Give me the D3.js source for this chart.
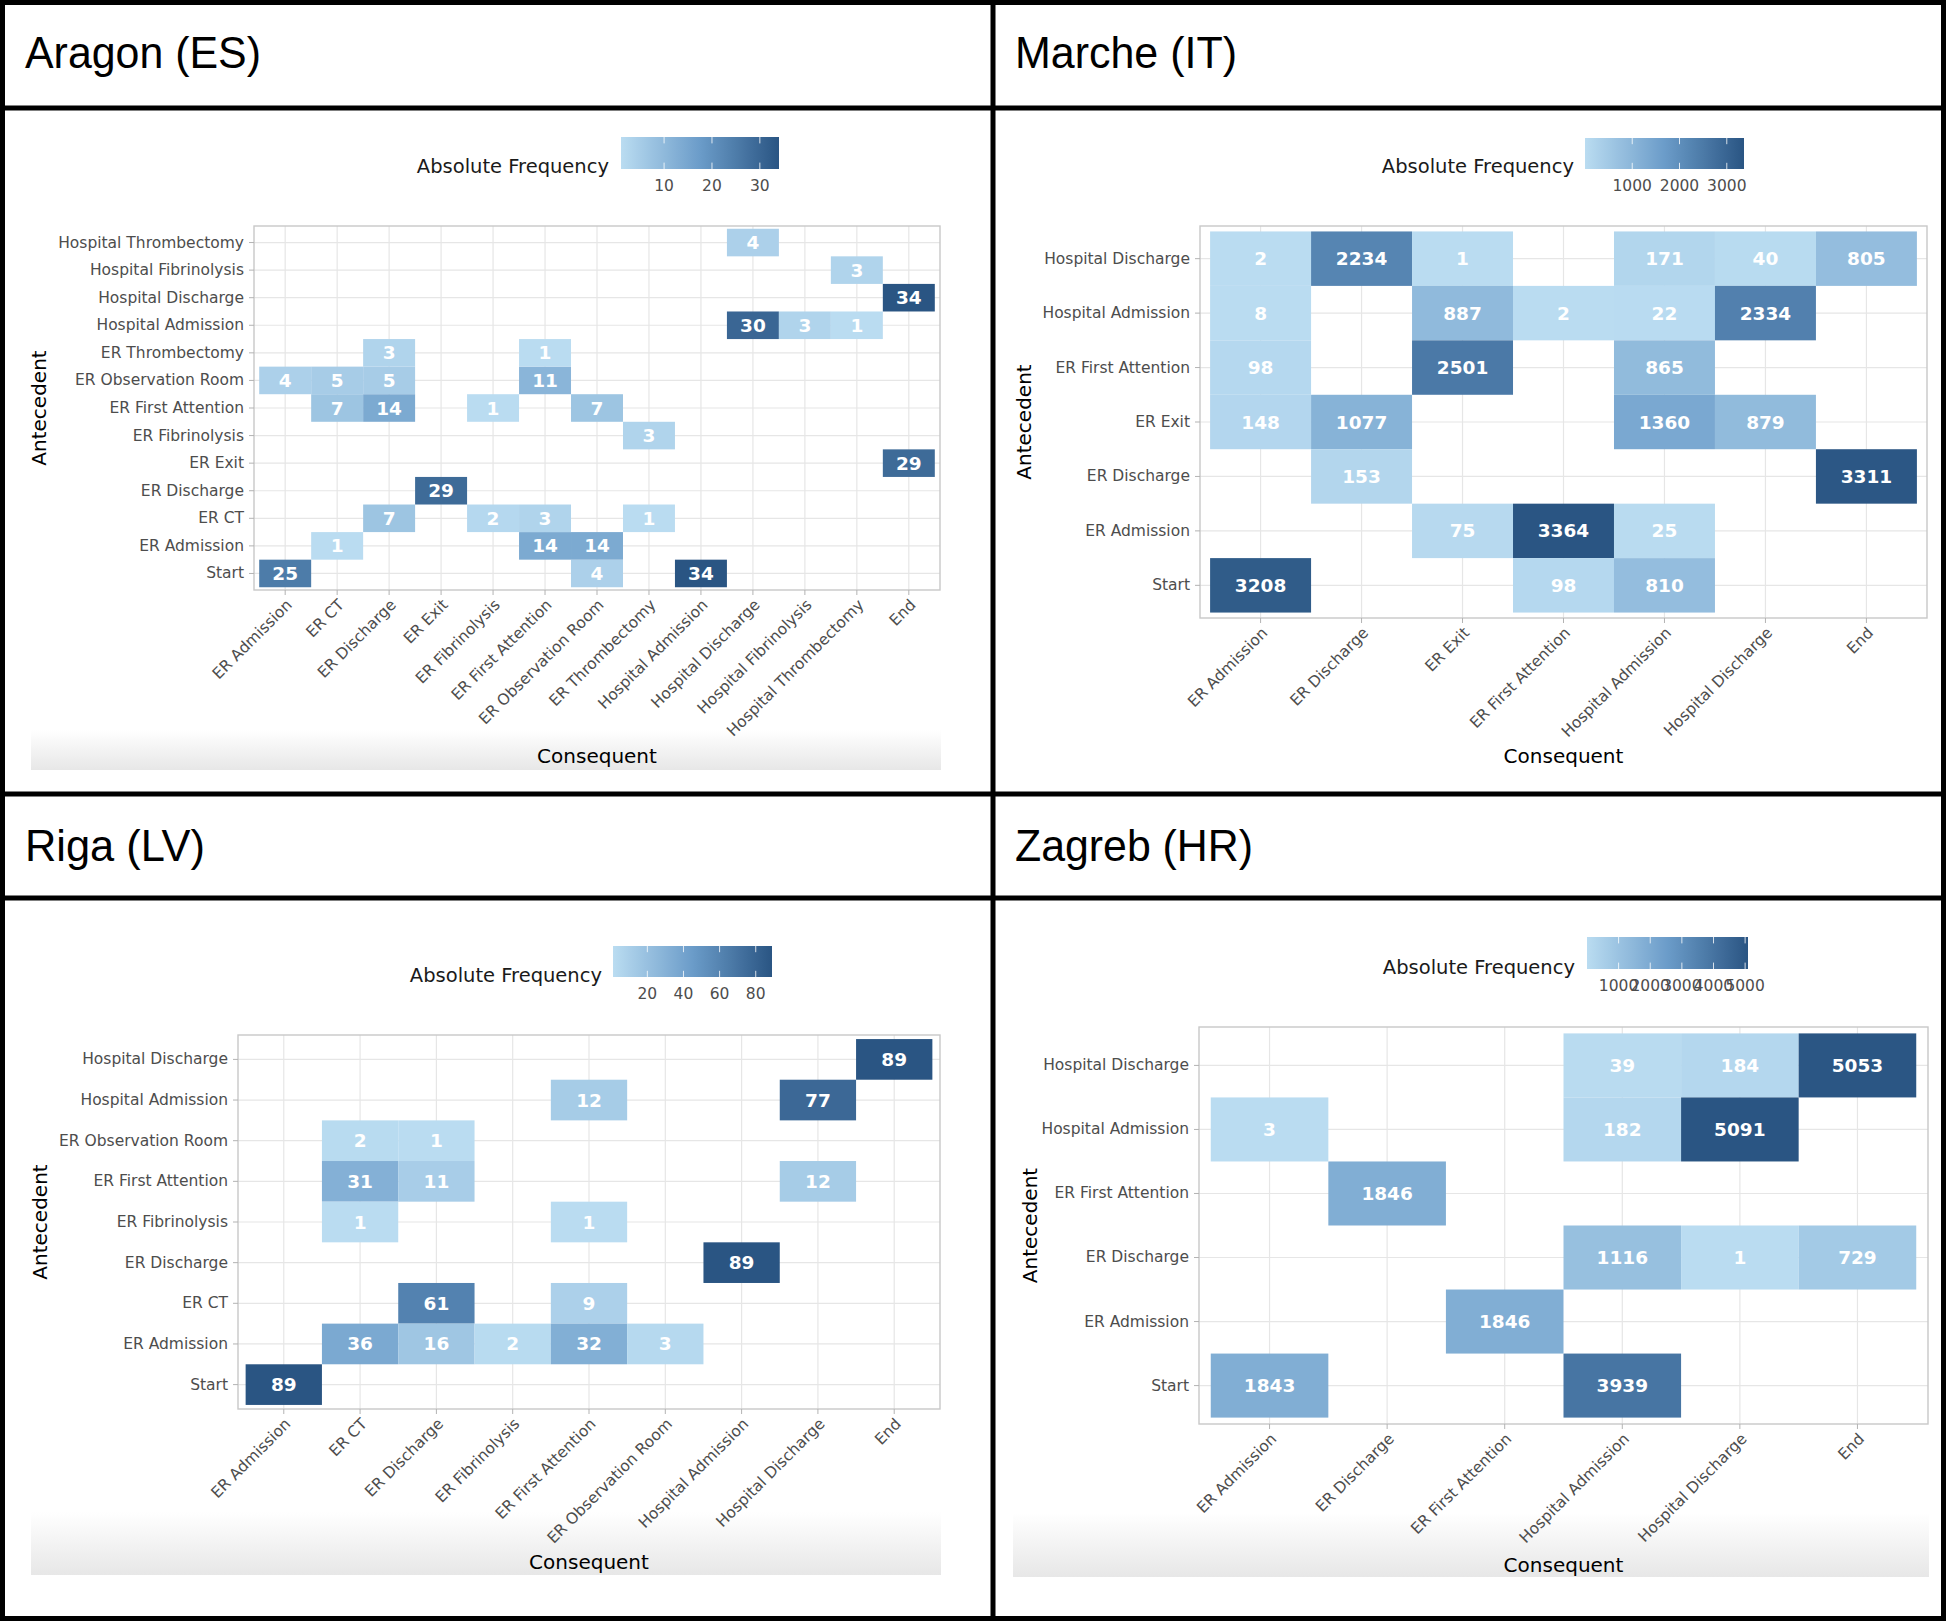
<!DOCTYPE html>
<html><head><meta charset="utf-8">
<script src="https://cdn.jsdelivr.net/npm/d3@7"></script>
<style>
html,body{margin:0;padding:0;background:#fff;}
svg{display:block;}
</style></head><body>
<svg id="chart" width="1946" height="1621"></svg>
<script>
// ---------------- DATA ----------------
const aragonConsequents = ["ER Admission","ER CT","ER Discharge","ER Exit","ER Fibrinolysis","ER First Attention","ER Observation Room","ER Thrombectomy","Hospital Admission","Hospital Discharge","Hospital Fibrinolysis","Hospital Thrombectomy","End"];
const aragonAntecedents = ["Start","ER Admission","ER CT","ER Discharge","ER Exit","ER Fibrinolysis","ER First Attention","ER Observation Room","ER Thrombectomy","Hospital Admission","Hospital Discharge","Hospital Fibrinolysis","Hospital Thrombectomy"];
const aragonCells = [
  ["Start","ER Admission",25],["Start","ER Observation Room",4],["Start","Hospital Admission",34],
  ["ER Admission","ER CT",1],["ER Admission","ER First Attention",14],["ER Admission","ER Observation Room",14],
  ["ER CT","ER Discharge",7],["ER CT","ER Fibrinolysis",2],["ER CT","ER First Attention",3],["ER CT","ER Thrombectomy",1],
  ["ER Discharge","ER Exit",29],
  ["ER Exit","End",29],
  ["ER Fibrinolysis","ER Thrombectomy",3],
  ["ER First Attention","ER CT",7],["ER First Attention","ER Discharge",14],["ER First Attention","ER Fibrinolysis",1],["ER First Attention","ER Observation Room",7],
  ["ER Observation Room","ER Admission",4],["ER Observation Room","ER CT",5],["ER Observation Room","ER Discharge",5],["ER Observation Room","ER First Attention",11],
  ["ER Thrombectomy","ER Discharge",3],["ER Thrombectomy","ER First Attention",1],
  ["Hospital Admission","Hospital Discharge",30],["Hospital Admission","Hospital Fibrinolysis",3],["Hospital Admission","Hospital Thrombectomy",1],
  ["Hospital Discharge","End",34],
  ["Hospital Fibrinolysis","Hospital Thrombectomy",3],
  ["Hospital Thrombectomy","Hospital Discharge",4]
];
const aragonTicks = [10,20,30];

const marcheConsequents = ["ER Admission","ER Discharge","ER Exit","ER First Attention","Hospital Admission","Hospital Discharge","End"];
const marcheAntecedents = ["Start","ER Admission","ER Discharge","ER Exit","ER First Attention","Hospital Admission","Hospital Discharge"];
const marcheCells = [
  ["Hospital Discharge","ER Admission",2],["Hospital Discharge","ER Discharge",2234],["Hospital Discharge","ER Exit",1],["Hospital Discharge","Hospital Admission",171],["Hospital Discharge","Hospital Discharge",40],["Hospital Discharge","End",805],
  ["Hospital Admission","ER Admission",8],["Hospital Admission","ER Exit",887],["Hospital Admission","ER First Attention",2],["Hospital Admission","Hospital Admission",22],["Hospital Admission","Hospital Discharge",2334],
  ["ER First Attention","ER Admission",98],["ER First Attention","ER Exit",2501],["ER First Attention","Hospital Admission",865],
  ["ER Exit","ER Admission",148],["ER Exit","ER Discharge",1077],["ER Exit","Hospital Admission",1360],["ER Exit","Hospital Discharge",879],
  ["ER Discharge","ER Discharge",153],["ER Discharge","End",3311],
  ["ER Admission","ER Exit",75],["ER Admission","ER First Attention",3364],["ER Admission","Hospital Admission",25],
  ["Start","ER Admission",3208],["Start","ER First Attention",98],["Start","Hospital Admission",810]
];
const marcheTicks = [1000,2000,3000];

const rigaConsequents = ["ER Admission","ER CT","ER Discharge","ER Fibrinolysis","ER First Attention","ER Observation Room","Hospital Admission","Hospital Discharge","End"];
const rigaAntecedents = ["Start","ER Admission","ER CT","ER Discharge","ER Fibrinolysis","ER First Attention","ER Observation Room","Hospital Admission","Hospital Discharge"];
const rigaCells = [
  ["Hospital Discharge","End",89],
  ["Hospital Admission","ER First Attention",12],["Hospital Admission","Hospital Discharge",77],
  ["ER Observation Room","ER CT",2],["ER Observation Room","ER Discharge",1],
  ["ER First Attention","ER CT",31],["ER First Attention","ER Discharge",11],["ER First Attention","Hospital Discharge",12],
  ["ER Fibrinolysis","ER CT",1],["ER Fibrinolysis","ER First Attention",1],
  ["ER Discharge","Hospital Admission",89],
  ["ER CT","ER Discharge",61],["ER CT","ER First Attention",9],
  ["ER Admission","ER CT",36],["ER Admission","ER Discharge",16],["ER Admission","ER Fibrinolysis",2],["ER Admission","ER First Attention",32],["ER Admission","ER Observation Room",3],
  ["Start","ER Admission",89]
];
const rigaTicks = [20,40,60,80];

const zagrebConsequents = ["ER Admission","ER Discharge","ER First Attention","Hospital Admission","Hospital Discharge","End"];
const zagrebAntecedents = ["Start","ER Admission","ER Discharge","ER First Attention","Hospital Admission","Hospital Discharge"];
const zagrebCells = [
  ["Hospital Discharge","Hospital Admission",39],["Hospital Discharge","Hospital Discharge",184],["Hospital Discharge","End",5053],
  ["Hospital Admission","ER Admission",3],["Hospital Admission","Hospital Admission",182],["Hospital Admission","Hospital Discharge",5091],
  ["ER First Attention","ER Discharge",1846],
  ["ER Discharge","Hospital Admission",1116],["ER Discharge","Hospital Discharge",1],["ER Discharge","End",729],
  ["ER Admission","ER First Attention",1846],
  ["Start","ER Admission",1843],["Start","Hospital Admission",3939]
];
const zagrebTicks = [1000,2000,3000,4000,5000];

const panelTitles = ["Aragon (ES)","Marche (IT)","Riga (LV)","Zagreb (HR)"];

// ---------------- LAYOUT ----------------
const panels = [
  {title:panelTitles[0], cols:aragonConsequents, rows:aragonAntecedents, cells:aragonCells, ticks:aragonTicks,
   tx:25, ty:68, tw:236,
   plot:{x0:254,x1:940,y0:226,y1:590},
   leg:{x0:621,x1:779,y0:137,y1:169,titleRight:609,titleY:166,labelY:186},
   yTitleX:39, xTitleY:756, band:{x0:31,x1:941,y0:730,y1:770}},
  {title:panelTitles[1], cols:marcheConsequents, rows:marcheAntecedents, cells:marcheCells, ticks:marcheTicks,
   tx:1015, ty:68, tw:222,
   plot:{x0:1200,x1:1927,y0:226,y1:618},
   leg:{x0:1585,x1:1744,y0:138,y1:169,titleRight:1574,titleY:166,labelY:186},
   yTitleX:1024, xTitleY:756, band:null},
  {title:panelTitles[2], cols:rigaConsequents, rows:rigaAntecedents, cells:rigaCells, ticks:rigaTicks,
   tx:25, ty:861, tw:180,
   plot:{x0:238,x1:940,y0:1035,y1:1409},
   leg:{x0:613,x1:772,y0:946,y1:977,titleRight:602,titleY:975,labelY:994},
   yTitleX:40, xTitleY:1562, band:{x0:31,x1:941,y0:1512,y1:1575}},
  {title:panelTitles[3], cols:zagrebConsequents, rows:zagrebAntecedents, cells:zagrebCells, ticks:zagrebTicks,
   tx:1015, ty:861, tw:238,
   plot:{x0:1199,x1:1928,y0:1027,y1:1424},
   leg:{x0:1587,x1:1748,y0:937,y1:969,titleRight:1575,titleY:967,labelY:986},
   yTitleX:1030, xTitleY:1565, band:{x0:1013,x1:1929,y0:1513,y1:1577}}
];

const PALETTE = ["#badcf1", "#6b9cc9", "#2a5583"];
const FONT = "'DejaVu Sans', Verdana, sans-serif";

const svg = d3.select("#chart");
const defs = svg.append("defs");

// fading band gradient
const bg = defs.append("linearGradient").attr("id","bandGrad").attr("x1",0).attr("y1",0).attr("x2",0).attr("y2",1);
bg.append("stop").attr("offset","0%").attr("stop-color","#ffffff");
bg.append("stop").attr("offset","100%").attr("stop-color","#e7e7e7");

panels.forEach((p, pi) => {
  const g = svg.append("g");

  if (p.band) {
    g.append("rect").attr("x",p.band.x0).attr("y",p.band.y0)
      .attr("width",p.band.x1-p.band.x0).attr("height",p.band.y1-p.band.y0)
      .attr("fill","url(#bandGrad)");
  }

  g.append("text").attr("x",p.tx).attr("y",p.ty)
    .attr("font-family","'Liberation Sans', Arial, sans-serif").attr("font-size",44)
    .attr("textLength",p.tw).attr("lengthAdjust","spacingAndGlyphs")
    .attr("fill","#000").text(p.title);

  const x = d3.scaleBand().domain(p.cols).range([p.plot.x0,p.plot.x1]).paddingInner(0).paddingOuter(0.1);
  const y = d3.scaleBand().domain(p.rows.slice().reverse()).range([p.plot.y0,p.plot.y1]).paddingInner(0).paddingOuter(0.1);
  const ext = d3.extent(p.cells, d => d[2]);
  const color = d3.scaleLinear().domain([ext[0],(ext[0]+ext[1])/2,ext[1]]).range(PALETTE).interpolate(d3.interpolateRgb);

  g.append("g").selectAll("line").data(p.cols).join("line")
    .attr("x1",d=>x(d)+x.bandwidth()/2).attr("x2",d=>x(d)+x.bandwidth()/2)
    .attr("y1",p.plot.y0).attr("y2",p.plot.y1).attr("stroke","#e6e6e6").attr("stroke-width",1.2);
  g.append("g").selectAll("line").data(p.rows).join("line")
    .attr("y1",d=>y(d)+y.bandwidth()/2).attr("y2",d=>y(d)+y.bandwidth()/2)
    .attr("x1",p.plot.x0).attr("x2",p.plot.x1).attr("stroke","#e6e6e6").attr("stroke-width",1.2);

  g.append("g").selectAll("rect").data(p.cells).join("rect")
    .attr("x",d=>x(d[1])).attr("y",d=>y(d[0]))
    .attr("width",x.bandwidth()).attr("height",y.bandwidth())
    .attr("fill",d=>color(d[2]));
  g.append("g").selectAll("text").data(p.cells).join("text")
    .attr("x",d=>x(d[1])+x.bandwidth()/2).attr("y",d=>y(d[0])+y.bandwidth()/2)
    .attr("text-anchor","middle").attr("dominant-baseline","central")
    .attr("font-family",FONT).attr("font-weight","bold").attr("font-size",18.5)
    .attr("fill","#ffffff").text(d=>d[2]);

  g.append("rect").attr("x",p.plot.x0).attr("y",p.plot.y0)
    .attr("width",p.plot.x1-p.plot.x0).attr("height",p.plot.y1-p.plot.y0)
    .attr("fill","none").attr("stroke","#c8c8c8").attr("stroke-width",1.4);

  const yAxis = g.append("g").attr("transform",`translate(${p.plot.x0},0)`)
    .call(d3.axisLeft(y).tickSize(5).tickPadding(5));
  yAxis.select(".domain").remove();
  yAxis.selectAll(".tick line").attr("stroke","#b3b3b3");
  yAxis.selectAll(".tick text").attr("font-family",FONT).attr("font-size",15.5).attr("fill","#4d4d4d");

  const xAxis = g.append("g").attr("transform",`translate(0,${p.plot.y1})`)
    .call(d3.axisBottom(x).tickSize(5).tickPadding(5));
  xAxis.select(".domain").remove();
  xAxis.selectAll(".tick line").attr("stroke","#b3b3b3");
  xAxis.selectAll(".tick text")
    .attr("font-family",FONT).attr("font-size",15.5).attr("fill","#4d4d4d")
    .attr("text-anchor","end").attr("x",0).attr("y",0).attr("dy","0.71em")
    .attr("transform","translate(0,8) rotate(-45)");

  g.append("text").attr("transform",`translate(${p.yTitleX},${(p.plot.y0+p.plot.y1)/2}) rotate(-90)`)
    .attr("text-anchor","middle").attr("dominant-baseline","central")
    .attr("font-family",FONT).attr("font-size",20).attr("fill","#000").text("Antecedent");
  g.append("text").attr("x",(p.plot.x0+p.plot.x1)/2).attr("y",p.xTitleY)
    .attr("text-anchor","middle").attr("dominant-baseline","central")
    .attr("font-family",FONT).attr("font-size",20).attr("fill","#000").text("Consequent");

  const gid = "legGrad"+pi;
  const lg = defs.append("linearGradient").attr("id",gid).attr("x1",0).attr("x2",1).attr("y1",0).attr("y2",0);
  d3.range(0,1.0001,0.05).forEach(t => {
    lg.append("stop").attr("offset",(t*100)+"%").attr("stop-color",color(ext[0]+t*(ext[1]-ext[0])));
  });
  g.append("rect").attr("x",p.leg.x0).attr("y",p.leg.y0)
    .attr("width",p.leg.x1-p.leg.x0).attr("height",p.leg.y1-p.leg.y0).attr("fill",`url(#${gid})`);
  const lx = d3.scaleLinear().domain(ext).range([p.leg.x0,p.leg.x1]);
  const lh = p.leg.y1-p.leg.y0;
  p.ticks.forEach(t => {
    g.append("line").attr("x1",lx(t)).attr("x2",lx(t)).attr("y1",p.leg.y0).attr("y2",p.leg.y0+lh*0.2)
      .attr("stroke","#ffffff").attr("stroke-width",1).attr("opacity",0.8);
    g.append("line").attr("x1",lx(t)).attr("x2",lx(t)).attr("y1",p.leg.y1-lh*0.2).attr("y2",p.leg.y1)
      .attr("stroke","#ffffff").attr("stroke-width",1).attr("opacity",0.8);
    g.append("text").attr("x",lx(t)).attr("y",p.leg.labelY)
      .attr("text-anchor","middle").attr("dominant-baseline","central")
      .attr("font-family",FONT).attr("font-size",15.5).attr("fill","#4d4d4d").text(t);
  });
  g.append("text").attr("x",p.leg.titleRight).attr("y",p.leg.titleY)
    .attr("text-anchor","end").attr("dominant-baseline","central")
    .attr("font-family",FONT).attr("font-size",19.5).attr("fill","#1a1a1a").text("Absolute Frequency");
});

const frame = svg.append("g").attr("stroke","#000").attr("stroke-width",5).attr("fill","none");
frame.append("rect").attr("x",2.5).attr("y",2.5).attr("width",1941).attr("height",1616);
frame.append("line").attr("x1",993).attr("x2",993).attr("y1",0).attr("y2",1621);
frame.append("line").attr("x1",0).attr("x2",1946).attr("y1",108).attr("y2",108);
frame.append("line").attr("x1",0).attr("x2",1946).attr("y1",794).attr("y2",794);
frame.append("line").attr("x1",0).attr("x2",1946).attr("y1",898).attr("y2",898);
</script>
</body></html>
